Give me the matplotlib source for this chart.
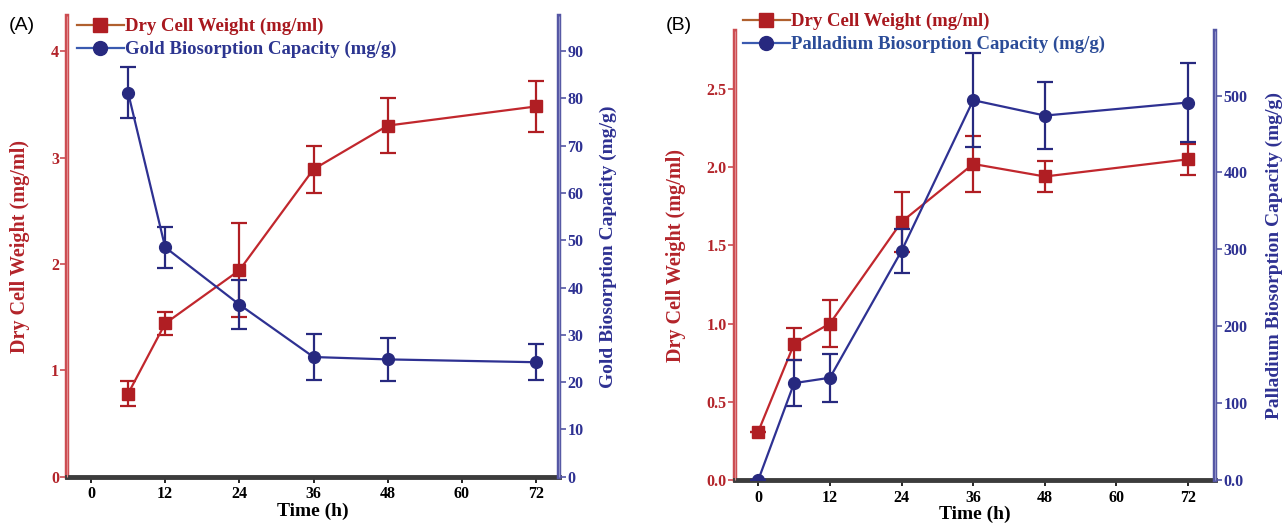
import matplotlib
matplotlib.use("Agg")
import matplotlib.pyplot as plt
from matplotlib.lines import Line2D

# ── data ────────────────────────────────────────────────────────────────────
time_a = [6, 12, 24, 36, 48, 72]
dcw_a = [0.78, 1.44, 1.94, 2.89, 3.30, 3.48]
dcw_a_err = [0.12, 0.11, 0.44, 0.22, 0.26, 0.24]
gold = [81.2, 48.5, 36.4, 25.3, 24.8, 24.2]
gold_err = [5.4, 4.3, 5.2, 4.9, 4.5, 3.8]

time_b = [0, 6, 12, 24, 36, 48, 72]
dcw_b = [0.31, 0.87, 1.00, 1.65, 2.02, 1.94, 2.05]
dcw_b_err = [0.0, 0.10, 0.15, 0.19, 0.18, 0.10, 0.10]
palladium = [0, 126, 133, 298, 494, 474, 491]
palladium_err = [0, 30, 31, 29, 61, 44, 51]

x_ticks = [0, 12, 24, 36, 48, 60, 72]

RED = "#c1272d"
RED_MK = "#b01e23"
RED_TXT = "#b3242a"
NAVY = "#2e3192"
NAVY_MK = "#27297f"
SPINE_RED = "#cc4c51"
SPINE_BLUE = "#5456a4"
SERIF = "Liberation Serif"
W, H = 1284, 525

plt.rcParams["font.family"] = SERIF
plt.rcParams["font.weight"] = "bold"

fig = plt.figure(figsize=(W / 100, H / 100), dpi=100)


def double_spine(ax, x, color, light):
    # thick coloured spine with a lighter core, like the reference
    side = "left" if x == 0 else "right"
    ax.spines[side].set_color(color)
    ax.spines[side].set_linewidth(3.2)
    ax.plot([x, x], [0, 1], transform=ax.transAxes, color=light, lw=0.8,
            clip_on=False, zorder=5, solid_capstyle="butt")


def panel(px, t, dcw, dcw_err, cap, cap_err, xlim, ylim_l, ylim_r,
          yticks_l, yticklabels_l, yticks_r, yticklabels_r,
          right_label, legend_px, legend_blue, label_x, tag, tag_px):
    left, top, right, bottom = px
    ax = fig.add_axes([left / W, 1 - bottom / H, (right - left) / W,
                       (bottom - top) / H])
    ax2 = ax.twinx()

    ax.errorbar(t, dcw, yerr=dcw_err, color=RED, ecolor=RED_MK, lw=1.6,
                elinewidth=1.6, capsize=6, capthick=1.6, marker="s",
                ms=8, mfc=RED_MK, mec=RED_MK, zorder=3)
    ax2.errorbar(t, cap, yerr=cap_err, color=NAVY, ecolor=NAVY_MK, lw=1.6,
                 elinewidth=1.6, capsize=6, capthick=1.6, marker="o",
                 ms=8.5, mfc=NAVY_MK, mec=NAVY_MK, zorder=3)

    ax.set_xlim(*xlim)
    ax.set_ylim(*ylim_l)
    ax2.set_ylim(*ylim_r)

    ax.set_xticks(x_ticks)
    ax.set_yticks(yticks_l)
    ax.set_yticklabels(yticklabels_l)
    ax2.set_yticks(yticks_r)
    ax2.set_yticklabels(yticklabels_r)

    for s in ("top", "right"):
        ax.spines[s].set_visible(False)
    for s in ("top", "left", "bottom"):
        ax2.spines[s].set_visible(False)
    double_spine(ax, 0, SPINE_RED, "#e08a8d")
    double_spine(ax2, 1, SPINE_BLUE, "#8e90c8")
    ax.spines["bottom"].set_color("#3c3c3c")
    ax.spines["bottom"].set_linewidth(3.5)

    ax.tick_params(axis="x", direction="out", length=4, width=1.2,
                   colors="black", labelsize=11.5, pad=3)
    ax.tick_params(axis="y", direction="out", length=5, width=1.2,
                   colors=SPINE_RED, labelcolor=RED_TXT, labelsize=11.5, pad=1)
    ax2.tick_params(axis="y", direction="out", length=5, width=1.2,
                    colors=SPINE_BLUE, labelcolor=NAVY, labelsize=11.5, pad=1)

    ax.set_xlabel("Time (h)", fontsize=14, fontweight="bold", labelpad=0)
    ax.set_ylabel("Dry Cell Weight (mg/ml)", fontsize=14.5,
                  fontweight="bold", color=RED_TXT)
    ax2.set_ylabel(right_label, fontsize=14, fontweight="bold", color=NAVY)
    ax.yaxis.set_label_coords((label_x[0] - left) / (right - left), 0.5)
    ax2.yaxis.set_label_coords((label_x[1] - left) / (right - left), 0.5)

    handles = [
        Line2D([], [], color="#b0602e", lw=1.6, marker="s", ms=10,
               mfc=RED_MK, mec=RED_MK),
        Line2D([], [], color="#3a5ab0", lw=1.6, marker="o", ms=10,
               mfc=NAVY_MK, mec=NAVY_MK),
    ]
    leg = fig.legend(handles, ["Dry Cell Weight (mg/ml)", right_label],
                     loc="upper left",
                     bbox_to_anchor=(legend_px[0] / W, 1 - legend_px[1] / H),
                     frameon=False,
                     prop={"family": SERIF, "weight": "bold", "size": 13.5},
                     handlelength=2.5, handletextpad=0.05, labelspacing=0.3,
                     borderpad=0, borderaxespad=0)
    leg.get_texts()[0].set_color("#a8181e")
    leg.get_texts()[1].set_color(legend_blue)

    fig.text(tag_px[0] / W, 1 - tag_px[1] / H, tag, fontsize=14,
             fontweight="normal", family="Liberation Sans",
             ha="left", va="center")
    return ax, ax2


panel((67.3, 16, 559, 476.7),
      time_a, dcw_a, dcw_a_err, gold, gold_err,
      (-3.83, 75.7), (0, 4.33), (0, 97.4),
      [0, 1, 2, 3, 4], ["0", "1", "2", "3", "4"],
      list(range(0, 100, 10)), [str(v) for v in range(0, 100, 10)],
      "Gold Biosorption Capacity (mg/g)",
      (77, 18), "#2c3590", (30, 600),
      "(A)", (9, 25))

panel((735, 31, 1215, 480),
      time_b, dcw_b, dcw_b_err, palladium, palladium_err,
      (-3.9, 76.5), (0, 2.87), (0, 584),
      [0, 0.5, 1.0, 1.5, 2.0, 2.5],
      ["0.0", "0.5", "1.0", "1.5", "2.0", "2.5"],
      [0, 100, 200, 300, 400, 500],
      ["0.0", "100", "200", "300", "400", "500"],
      "Palladium Biosorption Capacity (mg/g)",
      (743, 13), "#2b4c98", (686, 1266),
      "(B)", (666, 25))

fig.savefig("out.png", dpi=100)
